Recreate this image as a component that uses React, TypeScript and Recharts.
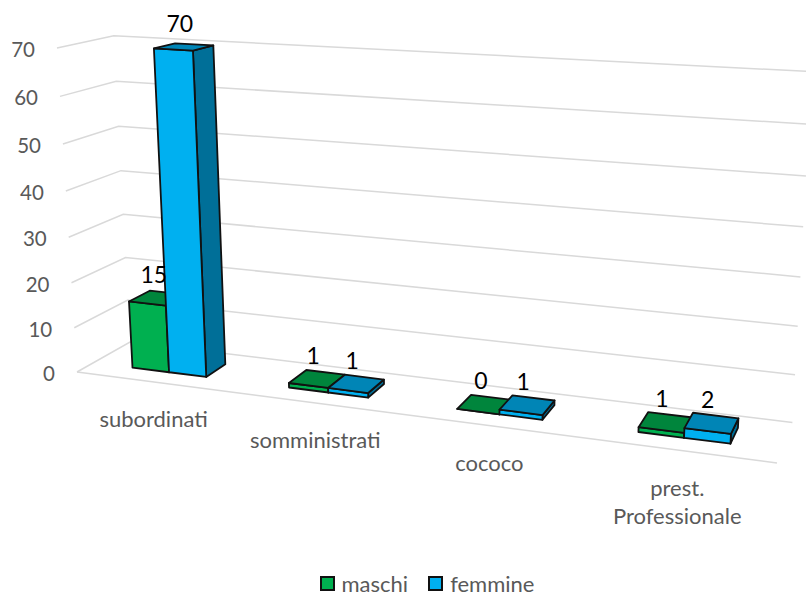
import { Bar, BarChart, CartesianGrid, LabelList, Legend, XAxis, YAxis } from "recharts";

const categories = ["subordinati", "somministrati", "cococo", "prest. Professionale"];
const maschi = [15, 1, 0, 1];
const femmine = [70, 1, 1, 2];
const yTicks = [0, 10, 20, 30, 40, 50, 60, 70];

const rows = categories.map((name, i) => ({ name, maschi: maschi[i], femmine: femmine[i] }));

const W = 806;
const H = 596;
const FONT = "Lato, sans-serif";

// flat plot box that recharts lays out, gets remapped to the 3D view below
const PLOT = { left: 60, top: 40, width: 700, height: 426 };
const YMAX = 70;

// corners of the 3D box on screen and the depth ratios of the perspective
const P0 = [77, 372];
const PU = [777, 463];
const PV = [57, 48];
const PW = [130, 342];
const KU = 0.86;
const KV = 0.95;
const KW = 1.06;

const DEPTH_FRONT = 0.3;
const DEPTH_BACK = 0.7;

function project(u: number, v: number, w: number) {
  const h = (i: number) =>
    P0[i] + u * (KU * PU[i] - P0[i]) + v * (KV * PV[i] - P0[i]) + w * (KW * PW[i] - P0[i]);
  const d = 1 + u * (KU - 1) + v * (KV - 1) + w * (KW - 1);
  return { x: h(0) / d, y: h(1) / d };
}

const toU = (x: number) => (x - PLOT.left) / PLOT.width;
const toV = (y: number) => 1 - (y - PLOT.top) / PLOT.height;

function poly(points: { x: number; y: number }[]) {
  return points.map((p) => `${p.x},${p.y}`).join(" ");
}

const shades: Record<string, { front: string; top: string; side: string }> = {
  maschi: { front: "#00B050", top: "#00853C", side: "#006F33" },
  femmine: { front: "#00B0F0", top: "#0085B6", side: "#006F98" },
};

function Box3D(props: any) {
  const { x, y, width, height, dataKey } = props;
  const c = shades[dataKey];
  const u0 = toU(x);
  const u1 = toU(x + width);
  const vTop = toV(y);
  const vBase = toV(y + height);
  const common = { stroke: "#111", strokeWidth: 1.8, strokeLinejoin: "round" as const };
  return (
    <g>
      <polygon
        {...common}
        fill={c.side}
        points={poly([
          project(u1, vBase, DEPTH_FRONT),
          project(u1, vBase, DEPTH_BACK),
          project(u1, vTop, DEPTH_BACK),
          project(u1, vTop, DEPTH_FRONT),
        ])}
      />
      <polygon
        {...common}
        fill={c.front}
        points={poly([
          project(u0, vBase, DEPTH_FRONT),
          project(u1, vBase, DEPTH_FRONT),
          project(u1, vTop, DEPTH_FRONT),
          project(u0, vTop, DEPTH_FRONT),
        ])}
      />
      <polygon
        {...common}
        fill={c.top}
        points={poly([
          project(u0, vTop, DEPTH_FRONT),
          project(u1, vTop, DEPTH_FRONT),
          project(u1, vTop, DEPTH_BACK),
          project(u0, vTop, DEPTH_BACK),
        ])}
      />
    </g>
  );
}

function BarValue(props: any) {
  const { x, y, width, value } = props;
  const p = project(toU(x + width / 2), toV(y), 0.5);
  return (
    <text x={p.x - 4} y={p.y - 24} textAnchor="middle" dominantBaseline="central" fontFamily={FONT} fontSize={23} fill="#000">
      {value}
    </text>
  );
}

function GridLine(props: any) {
  const v = toV(props.y1);
  const pts = [project(0, v, 0), project(0, v, 1), project(1, v, 1)];
  return (
    <g>
      <polyline points={poly(pts)} fill="none" stroke="#D9D9D9" strokeWidth={1.5} />
      {v < 0.001 && (
        <polyline points={poly([project(0, 0, 0), project(1, 0, 0)])} fill="none" stroke="#D9D9D9" strokeWidth={1.5} />
      )}
    </g>
  );
}

function ValueTick(props: any) {
  const p = project(0, toV(props.y), 0);
  return (
    <text x={p.x - 22} y={p.y + 1} textAnchor="end" dominantBaseline="central" fontFamily={FONT} fontSize={20.5} fill="#595959">
      {props.payload.value}
    </text>
  );
}

function CategoryTick(props: any) {
  const p = project(toU(props.x), 0, 0);
  const lines = String(props.payload.value).split(" ");
  return (
    <text textAnchor="middle" fontFamily={FONT} fontSize={22} fill="#595959">
      {lines.map((line, i) => (
        <tspan key={line} x={p.x} y={p.y + 37 + i * 28} dominantBaseline="central">
          {line}
        </tspan>
      ))}
    </text>
  );
}

function LegendRow(props: any) {
  return (
    <div style={{ height: 30, display: "flex", justifyContent: "center", alignItems: "center", paddingLeft: 48, fontFamily: FONT, fontSize: 22, color: "#595959" }}>
      {props.payload.map((item: any) => (
        <span key={item.value} style={{ display: "flex", alignItems: "center", margin: "0 10px" }}>
          <span style={{ width: 11, height: 11, border: "2px solid #111", background: item.color, marginRight: 7 }} />
          {item.value}
        </span>
      ))}
    </div>
  );
}

export default function App() {
  return (
    <div style={{ position: "absolute", left: 0, top: 0, width: W, height: H, overflow: "hidden", background: "#fff" }}>
      <BarChart
        width={W}
        height={H}
        data={rows}
        barCategoryGap="26%"
        barGap={0}
        margin={{ top: PLOT.top, right: W - PLOT.left - PLOT.width, bottom: 0, left: 0 }}
      >
        <CartesianGrid vertical={false} horizontal={(p: any) => <GridLine key={p.key} {...p} />} />
        <XAxis dataKey="name" height={100} interval={0} axisLine={false} tickLine={false} tick={<CategoryTick />} />
        <YAxis width={PLOT.left} domain={[0, YMAX]} ticks={yTicks} interval={0} axisLine={false} tickLine={false} tick={<ValueTick />} />
        <Legend content={<LegendRow />} itemSorter={null} wrapperStyle={{ left: 0, width: W, top: 568 }} />
        <Bar dataKey="maschi" fill={shades.maschi.front} isAnimationActive={false} shape={(p: any) => <Box3D {...p} dataKey="maschi" />}>
          <LabelList dataKey="maschi" content={<BarValue />} />
        </Bar>
        <Bar dataKey="femmine" fill={shades.femmine.front} isAnimationActive={false} shape={(p: any) => <Box3D {...p} dataKey="femmine" />}>
          <LabelList dataKey="femmine" content={<BarValue />} />
        </Bar>
      </BarChart>
    </div>
  );
}
